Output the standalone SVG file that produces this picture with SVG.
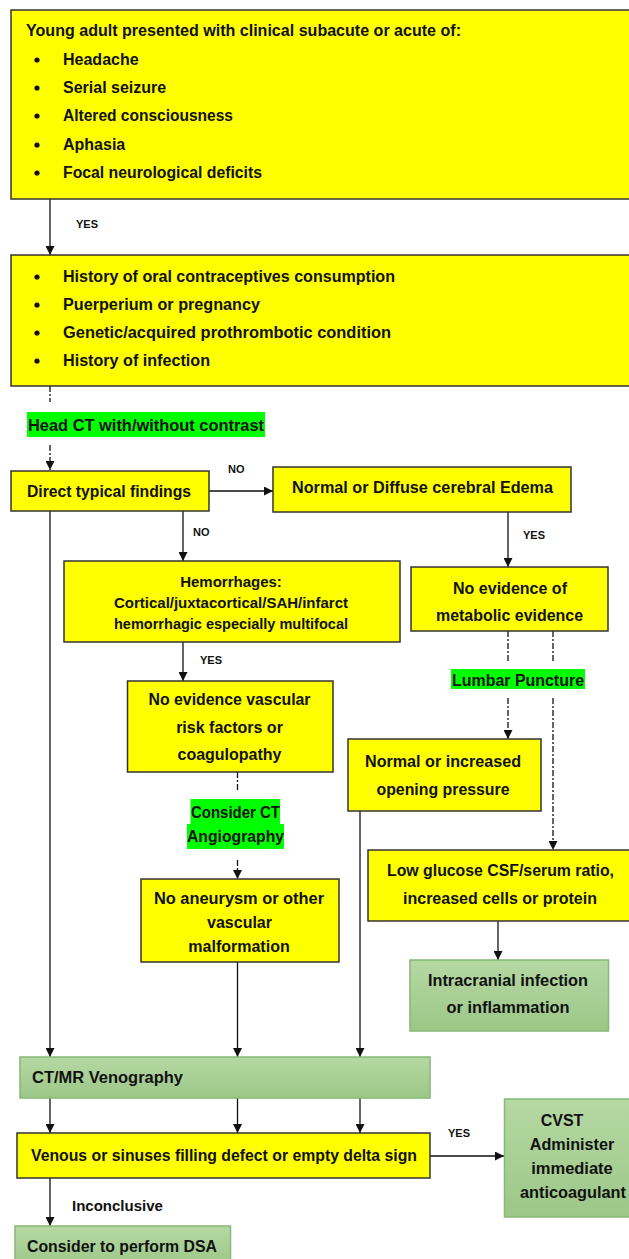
<svg xmlns="http://www.w3.org/2000/svg" width="629" height="1259" viewBox="0 0 629 1259">
<defs>
<style>
.y{fill:#ffff00;stroke:#333;stroke-width:1.5}
.g{fill:url(#gg);stroke:#87b874;stroke-width:1.5}
.hl{fill:#00ff00}
text{font-family:"Liberation Sans",Arial,sans-serif;font-weight:bold;fill:#111}
.t16{font-size:16px}
.t15{font-size:15px}
.lb{font-size:11px}
.c{text-anchor:middle}
.ln{fill:none;stroke:#111;stroke-width:1.3}
.ds{stroke-dasharray:6,2,2,2}
.bl{fill:#111}
</style>
<linearGradient id="gg" x1="0" y1="0" x2="0" y2="1">
<stop offset="0" stop-color="#b6d8a3"/>
<stop offset="1" stop-color="#9cc788"/>
</linearGradient>
<marker id="ah" viewBox="0 0 10 10" refX="10" refY="5" markerWidth="9" markerHeight="9" markerUnits="userSpaceOnUse" orient="auto">
<path d="M0,0 L10,5 L0,10 z" fill="#111"/>
</marker>
</defs>
<rect width="629" height="1259" fill="#fff"/>

<g id="connectors">
<path class="ln" d="M50,199 V255" marker-end="url(#ah)"/>
<path class="ln ds" d="M50,386 V402"/>
<path class="ln ds" d="M50,445 V470" marker-end="url(#ah)"/>
<path class="ln" d="M209,491 H273" marker-end="url(#ah)"/>
<path class="ln" d="M183,511 V561" marker-end="url(#ah)"/>
<path class="ln" d="M50,511 V1057" marker-end="url(#ah)"/>
<path class="ln" d="M508,512 V567" marker-end="url(#ah)"/>
<path class="ln" d="M183,642 V681" marker-end="url(#ah)"/>
<path class="ln ds" d="M237.5,772 V792"/>
<path class="ln ds" d="M237.5,860 V879" marker-end="url(#ah)"/>
<path class="ln ds" d="M508,631 V662"/>
<path class="ln ds" d="M508,698 V739" marker-end="url(#ah)"/>
<path class="ln ds" d="M553,631 V662"/>
<path class="ln ds" d="M553,698 V850" marker-end="url(#ah)"/>
<path class="ln" d="M360,811 V1057" marker-end="url(#ah)"/>
<path class="ln" d="M237.5,962 V1057" marker-end="url(#ah)"/>
<path class="ln" d="M498,921 V960" marker-end="url(#ah)"/>
<path class="ln" d="M50,1098 V1133" marker-end="url(#ah)"/>
<path class="ln" d="M237.5,1098 V1133" marker-end="url(#ah)"/>
<path class="ln" d="M360,1098 V1133" marker-end="url(#ah)"/>
<path class="ln" d="M430,1156 H504" marker-end="url(#ah)"/>
<path class="ln" d="M50,1178 V1226" marker-end="url(#ah)"/>
<text class="lb" x="76" y="228">YES</text>
<text class="lb" x="228" y="473">NO</text>
<text class="lb" x="193" y="536">NO</text>
<text class="lb" x="523" y="539">YES</text>
<text class="lb" x="200" y="664">YES</text>
<text class="lb" x="448" y="1137">YES</text>
<text class="t15" x="72" y="1211">Inconclusive</text>
</g>

<g id="n-presentation">
<rect class="y" x="11" y="10" width="630" height="189"/>
<text class="t16" x="26" y="36" textLength="435" lengthAdjust="spacingAndGlyphs">Young adult presented with clinical subacute or acute of:</text>
<circle class="bl" cx="37" cy="60" r="2.6"/><text class="t16" x="63" y="65">Headache</text>
<circle class="bl" cx="37" cy="88" r="2.6"/><text class="t16" x="63" y="93">Serial seizure</text>
<circle class="bl" cx="37" cy="116" r="2.6"/><text class="t16" x="63" y="121" textLength="170" lengthAdjust="spacingAndGlyphs">Altered consciousness</text>
<circle class="bl" cx="37" cy="145" r="2.6"/><text class="t16" x="63" y="150">Aphasia</text>
<circle class="bl" cx="37" cy="173" r="2.6"/><text class="t16" x="63" y="178" textLength="199" lengthAdjust="spacingAndGlyphs">Focal neurological deficits</text>
</g>

<g id="n-history">
<rect class="y" x="11" y="255" width="630" height="131"/>
<circle class="bl" cx="37" cy="277" r="2.6"/><text class="t16" x="63" y="282" textLength="332" lengthAdjust="spacingAndGlyphs">History of oral contraceptives consumption</text>
<circle class="bl" cx="37" cy="305" r="2.6"/><text class="t16" x="63" y="310" textLength="197" lengthAdjust="spacingAndGlyphs">Puerperium or pregnancy</text>
<circle class="bl" cx="37" cy="333" r="2.6"/><text class="t16" x="63" y="338" textLength="328" lengthAdjust="spacingAndGlyphs">Genetic/acquired prothrombotic condition</text>
<circle class="bl" cx="37" cy="361" r="2.6"/><text class="t16" x="63" y="366" textLength="147" lengthAdjust="spacingAndGlyphs">History of infection</text>
</g>

<g id="n-headct">
<rect class="hl" x="27" y="412" width="238" height="25"/>
<text class="t16" x="28" y="431" textLength="236" lengthAdjust="spacingAndGlyphs">Head CT with/without contrast</text>
</g>

<g id="n-direct">
<rect class="y" x="11" y="471" width="198" height="40"/>
<text class="t16" x="27" y="497" textLength="164" lengthAdjust="spacingAndGlyphs">Direct typical findings</text>
</g>

<g id="n-normal-edema">
<rect class="y" x="273" y="467" width="298" height="45"/>
<text class="t16 c" x="422.5" y="493" textLength="261" lengthAdjust="spacingAndGlyphs">Normal or Diffuse cerebral Edema</text>
</g>

<g id="n-hemorrhages">
<rect class="y" x="64" y="561" width="336" height="81"/>
<text class="t15 c" x="231" y="587">Hemorrhages:</text>
<text class="t15 c" x="231" y="608" textLength="234" lengthAdjust="spacingAndGlyphs">Cortical/juxtacortical/SAH/infarct</text>
<text class="t15 c" x="231" y="629" textLength="234" lengthAdjust="spacingAndGlyphs">hemorrhagic especially multifocal</text>
</g>

<g id="n-no-metabolic">
<rect class="y" x="411" y="567" width="197" height="64"/>
<text class="t16 c" x="510" y="594" textLength="114" lengthAdjust="spacingAndGlyphs">No evidence of</text>
<text class="t16 c" x="509.5" y="621" textLength="147" lengthAdjust="spacingAndGlyphs">metabolic evidence</text>
</g>

<g id="n-no-vascular">
<rect class="y" x="127.5" y="681" width="205.5" height="91"/>
<text class="t16 c" x="229.5" y="705" textLength="162" lengthAdjust="spacingAndGlyphs">No evidence vascular</text>
<text class="t16 c" x="229.5" y="733">risk factors or</text>
<text class="t16 c" x="229.5" y="760">coagulopathy</text>
</g>

<g id="n-lumbar">
<rect class="hl" x="451" y="669" width="134" height="20"/>
<text class="t16" x="452" y="686" textLength="132" lengthAdjust="spacingAndGlyphs">Lumbar Puncture</text>
</g>

<g id="n-normal-pressure">
<rect class="y" x="348" y="739" width="193" height="72"/>
<text class="t16 c" x="443" y="767" textLength="156" lengthAdjust="spacingAndGlyphs">Normal or increased</text>
<text class="t16 c" x="443" y="795" textLength="133" lengthAdjust="spacingAndGlyphs">opening pressure</text>
</g>

<g id="n-cta">
<rect class="hl" x="190.5" y="799" width="89.5" height="26"/>
<rect class="hl" x="187" y="824" width="97" height="25"/>
<text class="t16 c" x="235.5" y="818" textLength="89" lengthAdjust="spacingAndGlyphs">Consider CT</text>
<text class="t16 c" x="235.5" y="842" textLength="97" lengthAdjust="spacingAndGlyphs">Angiography</text>
</g>

<g id="n-no-aneurysm">
<rect class="y" x="141" y="879" width="198" height="83"/>
<text class="t16 c" x="239" y="904" textLength="170" lengthAdjust="spacingAndGlyphs">No aneurysm or other</text>
<text class="t16 c" x="239.5" y="928">vascular</text>
<text class="t16 c" x="239" y="952">malformation</text>
</g>

<g id="n-low-glucose">
<rect class="y" x="368" y="850" width="272" height="71"/>
<text class="t16 c" x="500.5" y="876" textLength="227" lengthAdjust="spacingAndGlyphs">Low glucose  CSF/serum ratio,</text>
<text class="t16 c" x="500" y="904" textLength="194" lengthAdjust="spacingAndGlyphs">increased cells or protein</text>
</g>

<g id="n-infection">
<rect class="g" x="410" y="960" width="198.5" height="71"/>
<text class="t16 c" x="508" y="986" textLength="160" lengthAdjust="spacingAndGlyphs">Intracranial infection</text>
<text class="t16 c" x="508" y="1013" textLength="123" lengthAdjust="spacingAndGlyphs">or inflammation</text>
</g>

<g id="n-venography">
<rect class="g" x="20" y="1057" width="410" height="41"/>
<text class="t16" x="32" y="1083" textLength="151" lengthAdjust="spacingAndGlyphs">CT/MR Venography</text>
</g>

<g id="n-venous">
<rect class="y" x="17" y="1133" width="413" height="45"/>
<text class="t16" x="31" y="1161" textLength="386" lengthAdjust="spacingAndGlyphs">Venous or sinuses filling defect or empty delta sign</text>
</g>

<g id="n-cvst">
<rect class="g" x="504.5" y="1099" width="135" height="118"/>
<text class="t16 c" x="562" y="1126">CVST</text>
<text class="t16 c" x="572" y="1150" textLength="84.5" lengthAdjust="spacingAndGlyphs">Administer</text>
<text class="t16 c" x="572" y="1174" textLength="81.5" lengthAdjust="spacingAndGlyphs">immediate</text>
<text class="t16 c" x="573" y="1198" textLength="106" lengthAdjust="spacingAndGlyphs">anticoagulant</text>
</g>

<g id="n-dsa">
<rect class="g" x="15" y="1226" width="215.5" height="40"/>
<text class="t16" x="27" y="1252" textLength="190" lengthAdjust="spacingAndGlyphs">Consider to perform DSA</text>
</g>
</svg>
